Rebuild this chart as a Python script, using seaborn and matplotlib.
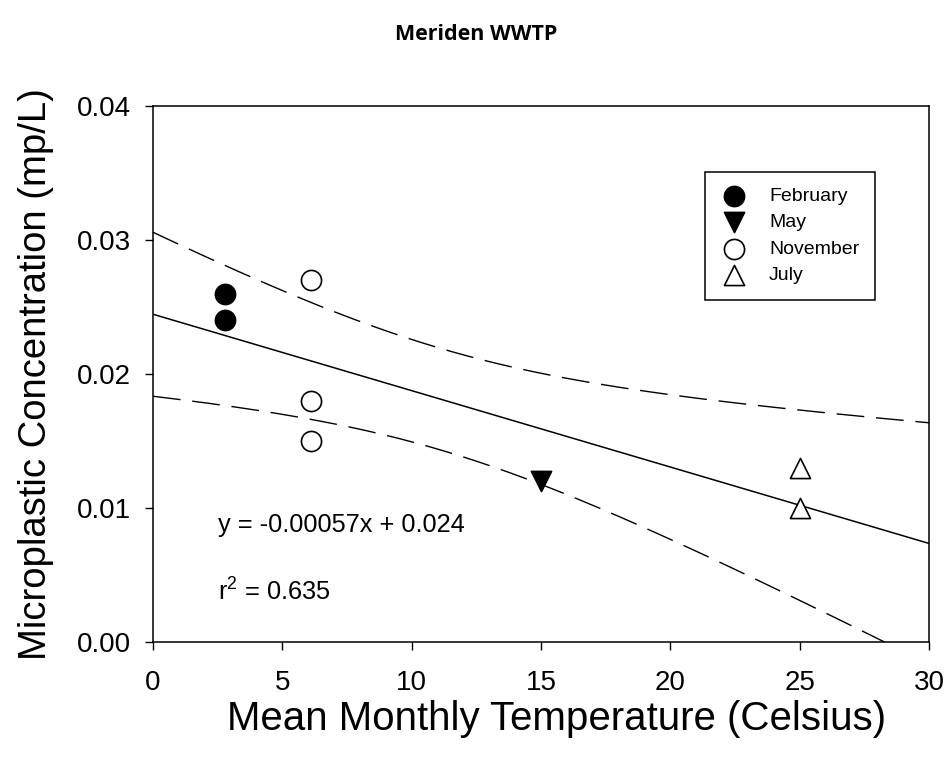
import numpy as np
import seaborn as sns
import matplotlib.pyplot as plt

# data
months = ['February', 'February', 'November', 'November', 'November', 'May', 'July', 'July']
temp = [2.8, 2.8, 6.1, 6.1, 6.1, 15.0, 25.0, 25.0]
conc = [0.026, 0.024, 0.027, 0.018, 0.015, 0.012, 0.013, 0.010]

legend_order = ['February', 'May', 'November', 'July']
markers = {'February': 'o', 'May': 'v', 'November': 'o', 'July': '^'}
faces = {'February': 'black', 'May': 'black', 'November': 'white', 'July': 'white'}

sns.set_style('ticks')
plt.rcParams['font.family'] = ['Liberation Sans', 'DejaVu Sans']
plt.rcParams['mathtext.fontset'] = 'custom'
plt.rcParams['mathtext.rm'] = 'Liberation Sans'
plt.rcParams['mathtext.default'] = 'regular'
plt.rcParams['text.color'] = 'black'
plt.rcParams['axes.labelcolor'] = 'black'
plt.rcParams['xtick.color'] = 'black'
plt.rcParams['ytick.color'] = 'black'

fig = plt.figure(figsize=(9.53, 7.65), dpi=100)
ax = fig.add_axes([0.1605, 0.1608, 0.8143, 0.7006])

x = np.array(temp)
y = np.array(conc)
n = len(x)

# linear fit + 95% confidence band
slope, intercept = np.polyfit(x, y, 1)
resid = y - (slope * x + intercept)
s = np.sqrt(np.sum(resid ** 2) / (n - 2))
sxx = np.sum((x - x.mean()) ** 2)
t_crit = 2.447  # t(0.975, df=6)
xg = np.linspace(0, 30, 300)
yg = slope * xg + intercept
half = t_crit * s * np.sqrt(1 / n + (xg - x.mean()) ** 2 / sxx)

ax.plot(xg, yg, color='black', lw=1.1)
ax.plot(xg, yg + half, color='black', lw=1.0, linestyle=(0, (20, 8.5)))
ax.plot(xg, yg - half, color='black', lw=1.0, linestyle=(0, (20, 8.5)))

for m in legend_order:
    xs = [a for a, g in zip(temp, months) if g == m]
    ys = [b for b, g in zip(conc, months) if g == m]
    sns.scatterplot(x=xs, y=ys, marker=markers[m], color=faces[m], edgecolor='black',
                    linewidth=1.2, s=210, label=m, ax=ax, zorder=3)

ax.set_xlim(0, 30)
ax.set_ylim(0, 0.04)
ax.set_xticks([0, 5, 10, 15, 20, 25, 30])
ax.set_yticks([0.00, 0.01, 0.02, 0.03, 0.04])
ax.set_yticklabels(['0.00', '0.01', '0.02', '0.03', '0.04'])
ax.tick_params(axis='both', direction='out', length=6, width=1, labelsize=20, color='black')
ax.tick_params(axis='y', pad=10)
ax.tick_params(axis='x', pad=14)
for sp in ax.spines.values():
    sp.set_color('black')
    sp.set_linewidth(1.1)

ax.set_xlabel('Mean Monthly Temperature (Celsius)', fontsize=29, labelpad=3)
ax.xaxis.label.set_x(0.52)
ax.set_ylabel('Microplastic Concentration (mp/L)', fontsize=27.5, labelpad=16)

ax.text(2.5, 0.0087, 'y = -0.00057x + 0.024', fontsize=18.3, va='center')
ax.text(2.5, 0.0037, 'r$^{2}$ = 0.635', fontsize=18.3, va='center')

leg = ax.legend(loc='upper left', bbox_to_anchor=(0.711, 0.877), fontsize=14, frameon=True,
                fancybox=False, edgecolor='black', framealpha=1, borderpad=0.8,
                borderaxespad=0, labelspacing=0.45, handlelength=1.4, handletextpad=1.1)
leg.get_frame().set_linewidth(1.1)

fig.text(0.5, 0.955, 'Meriden WWTP', ha='center', va='center', fontsize=15.5,
         fontweight='bold', family=['Open Sans', 'DejaVu Sans'])

fig.savefig('out.png', dpi=100)
